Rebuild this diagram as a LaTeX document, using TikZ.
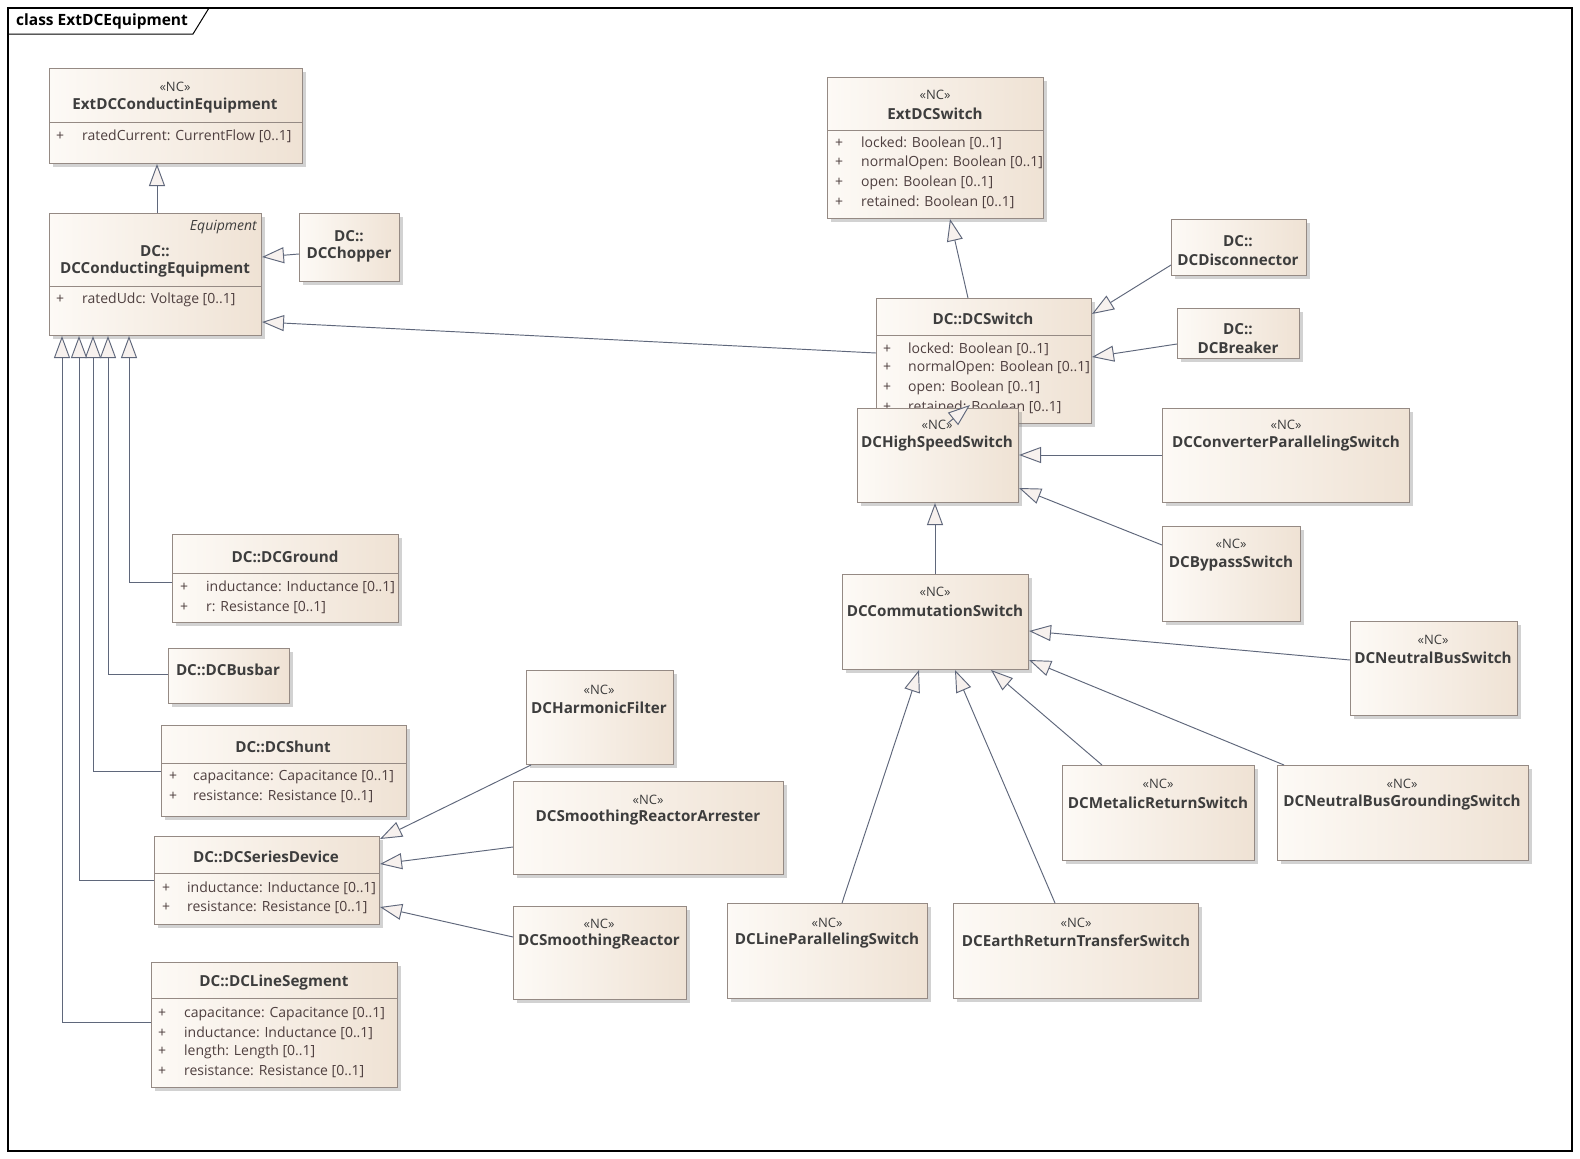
\documentclass[tikz,border=0pt]{standalone}
\usepackage{fontspec}
\setmainfont{Open Sans}
\usetikzlibrary{arrows.meta,shadows,calc}
\definecolor{lnc}{HTML}{5F677B}
\definecolor{bdc}{HTML}{958A84}
\definecolor{boxl}{HTML}{FDFAF6}
\definecolor{boxr}{HTML}{EFE2D4}
\definecolor{tipf}{HTML}{F7F1EE}
\definecolor{nmc}{HTML}{3D3D3D}
\definecolor{atc}{HTML}{4E3F3F}
\newcommand{\umlcls}[5]{\node[cls, minimum width=#4pt, minimum height=#5pt, anchor=north west] (#1) at (#2,#3) {};}
\tikzset{
 cls/.style={draw=bdc, line width=1pt, left color=boxl, right color=boxr, inner sep=0pt,
   drop shadow={shadow xshift=3pt, shadow yshift=-3pt, fill=black!50, opacity=0.35}},
 nm/.style={font=\fontsize{15.2}{17}\selectfont\bfseries, text=nmc, inner sep=0pt},
 stereo/.style={font=\fontsize{13}{15}\selectfont, text=nmc, inner sep=0pt},
 attr/.style={font=\fontsize{14}{16}\selectfont, text=atc, inner sep=0pt, anchor=west},
 gen/.style={draw=lnc, line width=0.95pt, -{Triangle[length=22pt,width=16pt,fill=tipf]}},
 sepl/.style={draw=bdc, line width=1pt},
}
\newcommand{\pl}[1]{\makebox[#1pt][l]{+}}
\begin{document}
\begin{tikzpicture}[x=1pt,y=-1pt]
\useasboundingbox (0,0) rectangle (1580,1159);
\fill[white] (0,0) rectangle (1580,1159);
% frame
\draw[line width=1.2pt] (8,8) rectangle (1572,1151);
\draw[line width=1pt] (8,34) -- (193,34) -- (209,8);
\node[anchor=west, font=\fontsize{15.5}{17}\selectfont\bfseries, inner sep=0pt] (title) at (16,21) {class ExtDCEquipment};

% ExtDCConductinEquipment
\umlcls{extcond}{49}{68}{253}{95}
\node[stereo] (extcond-s) at (175,87) {«NC»};
\node[nm] (extcond-n) at (175,106) {ExtDCConductinEquipment};
\draw[sepl] (extcond.north west) ++(0,54) -- ++(253,0);
\node[attr] (extcond-a1) at (56,136) {\pl{26}ratedCurrent: CurrentFlow [0..1]};

% DCConductingEquipment
\umlcls{dcce}{49}{213}{212}{122}
\node[font=\fontsize{14}{16}\selectfont\itshape, text=nmc, inner sep=0pt, anchor=east] (dcce-t) at (257,227) {Equipment};
\node[nm] (dcce-p) at (155,251) {DC::};
\node[nm] (dcce-n) at (155,270) {DCConductingEquipment};
\draw[sepl] (dcce.north west) ++(0,73) -- ++(212,0);
\node[attr] (dcce-a1) at (56,300) {\pl{26}ratedUdc: Voltage [0..1]};

% DCChopper
\umlcls{chopper}{299}{213}{100}{68}
\node[nm] (chopper-p) at (349,236) {DC::};
\node[nm] (chopper-n) at (349,255) {DCChopper};

% ExtDCSwitch
\umlcls{extsw}{827}{77}{216}{141}
\node[stereo] (extsw-s) at (935,95) {«NC»};
\node[nm] (extsw-n) at (935,114) {ExtDCSwitch};
\draw[sepl] (extsw.north west) ++(0,53) -- ++(216,0);
\node[attr] (extsw-a1) at (835,143) {\pl{26}locked: Boolean [0..1]};
\node[attr] (extsw-a2) at (835,163) {\pl{26}normalOpen: Boolean [0..1]};
\node[attr] (extsw-a3) at (835,183) {\pl{26}open: Boolean [0..1]};
\node[attr] (extsw-a4) at (835,202) {\pl{26}retained: Boolean [0..1]};

% DC::DCSwitch
\umlcls{dcsw}{876}{298}{215}{125}
\node[nm] (dcsw-n) at (983,319) {DC::DCSwitch};
\draw[sepl] (dcsw.north west) ++(0,37) -- ++(215,0);
\node[attr] (dcsw-a1) at (883,349) {\pl{25}locked: Boolean [0..1]};
\node[attr] (dcsw-a2) at (883,368) {\pl{25}normalOpen: Boolean [0..1]};
\node[attr] (dcsw-a3) at (883,388) {\pl{25}open: Boolean [0..1]};
\node[attr] (dcsw-a4) at (883,407) {\pl{25}retained: Boolean [0..1]};

% DCDisconnector
\umlcls{disc}{1171}{219}{135}{56}
\node[nm] (disc-p) at (1238,241) {DC::};
\node[nm] (disc-n) at (1238,260) {DCDisconnector};

% DCBreaker
\umlcls{breaker}{1177}{308}{122}{50}
\node[nm] (breaker-p) at (1238,329) {DC::};
\node[nm] (breaker-n) at (1238,348) {DCBreaker};

% DCHighSpeedSwitch
\umlcls{hss}{857}{408}{161}{94}
\node[stereo] (hss-s) at (937,425) {«NC»};
\node[nm] (hss-n) at (937,444) {DCHighSpeedSwitch};

% DCConverterParallelingSwitch
\umlcls{cps}{1162}{408}{247}{94}
\node[stereo] (cps-s) at (1286,425) {«NC»};
\node[nm] (cps-n) at (1286,444) {DCConverterParallelingSwitch};

% DCBypassSwitch
\umlcls{bypass}{1162}{526}{138}{95}
\node[stereo] (bypass-s) at (1231,544) {«NC»};
\node[nm] (bypass-n) at (1231,564) {DCBypassSwitch};

% DCCommutationSwitch
\umlcls{comm}{842}{574}{186}{95}
\node[stereo] (comm-s) at (935,592) {«NC»};
\node[nm] (comm-n) at (935,611) {DCCommutationSwitch};

% DCNeutralBusSwitch
\umlcls{nbs}{1350}{621}{167}{94}
\node[stereo] (nbs-s) at (1433,640) {«NC»};
\node[nm] (nbs-n) at (1433,658) {DCNeutralBusSwitch};

% DCMetalicReturnSwitch
\umlcls{mrs}{1062}{765}{192}{95}
\node[stereo] (mrs-s) at (1158,784) {«NC»};
\node[nm] (mrs-n) at (1158,803) {DCMetalicReturnSwitch};

% DCNeutralBusGroundingSwitch
\umlcls{nbgs}{1277}{765}{251}{95}
\node[stereo] (nbgs-s) at (1402,784) {«NC»};
\node[nm] (nbgs-n) at (1402,803) {DCNeutralBusGroundingSwitch};

% DCLineParallelingSwitch
\umlcls{lps}{727}{903}{200}{95}
\node[stereo] (lps-s) at (827,923) {«NC»};
\node[nm] (lps-n) at (827,941) {DCLineParallelingSwitch};

% DCEarthReturnTransferSwitch
\umlcls{erts}{953}{903}{245}{95}
\node[stereo] (erts-s) at (1076,923) {«NC»};
\node[nm] (erts-n) at (1076,941) {DCEarthReturnTransferSwitch};

% DC::DCGround
\umlcls{ground}{172}{534}{226}{88}
\node[nm] (ground-n) at (285,557) {DC::DCGround};
\draw[sepl] (ground.north west) ++(0,39) -- ++(226,0);
\node[attr] (ground-a1) at (180,587) {\pl{26}inductance: Inductance [0..1]};
\node[attr] (ground-a2) at (180,607) {\pl{26}r: Resistance [0..1]};

% DC::DCBusbar
\umlcls{busbar}{168}{648}{121}{55}
\node[nm] (busbar-n) at (228,670) {DC::DCBusbar};

% DC::DCShunt
\umlcls{shunt}{161}{725}{245}{91}
\node[nm] (shunt-n) at (283,747) {DC::DCShunt};
\draw[sepl] (shunt.north west) ++(0,38) -- ++(245,0);
\node[attr] (shunt-a1) at (169,777) {\pl{24}capacitance: Capacitance [0..1]};
\node[attr] (shunt-a2) at (169,796) {\pl{24}resistance: Resistance [0..1]};

% DC::DCSeriesDevice
\umlcls{series}{154}{836}{225}{88}
\node[nm] (series-n) at (266,857) {DC::DCSeriesDevice};
\draw[sepl] (series.north west) ++(0,37) -- ++(225,0);
\node[attr] (series-a1) at (162,888) {\pl{25}inductance: Inductance [0..1]};
\node[attr] (series-a2) at (162,907) {\pl{25}resistance: Resistance [0..1]};

% DC::DCLineSegment
\umlcls{lineseg}{151}{962}{246}{125}
\node[nm] (lineseg-n) at (274,983) {DC::DCLineSegment};
\draw[sepl] (lineseg.north west) ++(0,36) -- ++(246,0);
\node[attr] (lineseg-a1) at (158,1014) {\pl{26}capacitance: Capacitance [0..1]};
\node[attr] (lineseg-a2) at (158,1033) {\pl{26}inductance: Inductance [0..1]};
\node[attr] (lineseg-a3) at (158,1052) {\pl{26}length: Length [0..1]};
\node[attr] (lineseg-a4) at (158,1071) {\pl{26}resistance: Resistance [0..1]};

% DCHarmonicFilter
\umlcls{harm}{526}{670}{147}{94}
\node[stereo] (harm-s) at (599,690) {«NC»};
\node[nm] (harm-n) at (599,708) {DCHarmonicFilter};

% DCSmoothingReactorArrester
\umlcls{sra}{513}{781}{270}{93}
\node[stereo] (sra-s) at (648,800) {«NC»};
\node[nm] (sra-n) at (648,818) {DCSmoothingReactorArrester};

% DCSmoothingReactor
\umlcls{sr}{513}{906}{173}{93}
\node[stereo] (sr-s) at (599,924) {«NC»};
\node[nm] (sr-n) at (599,942) {DCSmoothingReactor};

% ---- connectors ----
\draw[gen] ($(dcce.north west)+(108,0)$) -- ($(extcond.south west)+(108,0)$);
\draw[gen] ($(chopper.north west)+(0,41)$) -- ($(dcce.north east)+(0,44)$);
\draw[gen] ($(dcsw.north west)+(0,55)$) -- ($(dcce.north east)+(0,109)$);
\draw[gen] ($(dcsw.north west)+(92,0)$) -- ($(extsw.south west)+(123,0)$);
\draw[gen] ($(disc.north west)+(0,46)$) -- ($(dcsw.north east)+(0,16)$);
\draw[gen] ($(breaker.north west)+(0,36)$) -- ($(dcsw.north east)+(0,59)$);
\draw[gen] ($(hss.north west)+(91,15)$) -- ($(dcsw.south west)+(94,-19)$);
\draw[gen] ($(cps.north west)+(0,47)$) -- ($(hss.north east)+(0,47)$);
\draw[gen] ($(bypass.north west)+(0,19)$) -- ($(hss.north east)+(0,80)$);
\draw[gen] ($(comm.north west)+(93,0)$) -- ($(hss.south west)+(78,0)$);
\draw[gen] ($(nbs.north west)+(0,39)$) -- ($(comm.north east)+(0,57)$);
\draw[gen] ($(nbgs.north west)+(7,0)$) -- ($(comm.north east)+(0,86)$);
\draw[gen] ($(mrs.north west)+(40,0)$) -- ($(comm.south west)+(149,0)$);
\draw[gen] ($(lps.north west)+(115,0)$) -- ($(comm.south west)+(77,0)$);
\draw[gen] ($(erts.north west)+(102,0)$) -- ($(comm.south west)+(113,0)$);
\draw[gen] ($(ground.north west)+(0,48)$) -| ($(dcce.south west)+(80,0)$);
\draw[gen] ($(busbar.north west)+(0,26)$) -| ($(dcce.south west)+(59,0)$);
\draw[gen] ($(shunt.north west)+(0,46)$) -| ($(dcce.south west)+(44,0)$);
\draw[gen] ($(series.north west)+(0,44)$) -| ($(dcce.south west)+(30,0)$);
\draw[gen] ($(lineseg.north west)+(0,60)$) -| ($(dcce.south west)+(13,0)$);
\draw[gen] ($(harm.south west)+(5,0)$) -- ($(series.north east)+(0,3)$);
\draw[gen] ($(sra.north west)+(0,66)$) -- ($(series.north east)+(0,28)$);
\draw[gen] ($(sr.north west)+(0,31)$) -- ($(series.north east)+(0,71)$);
\end{tikzpicture}
\end{document}
